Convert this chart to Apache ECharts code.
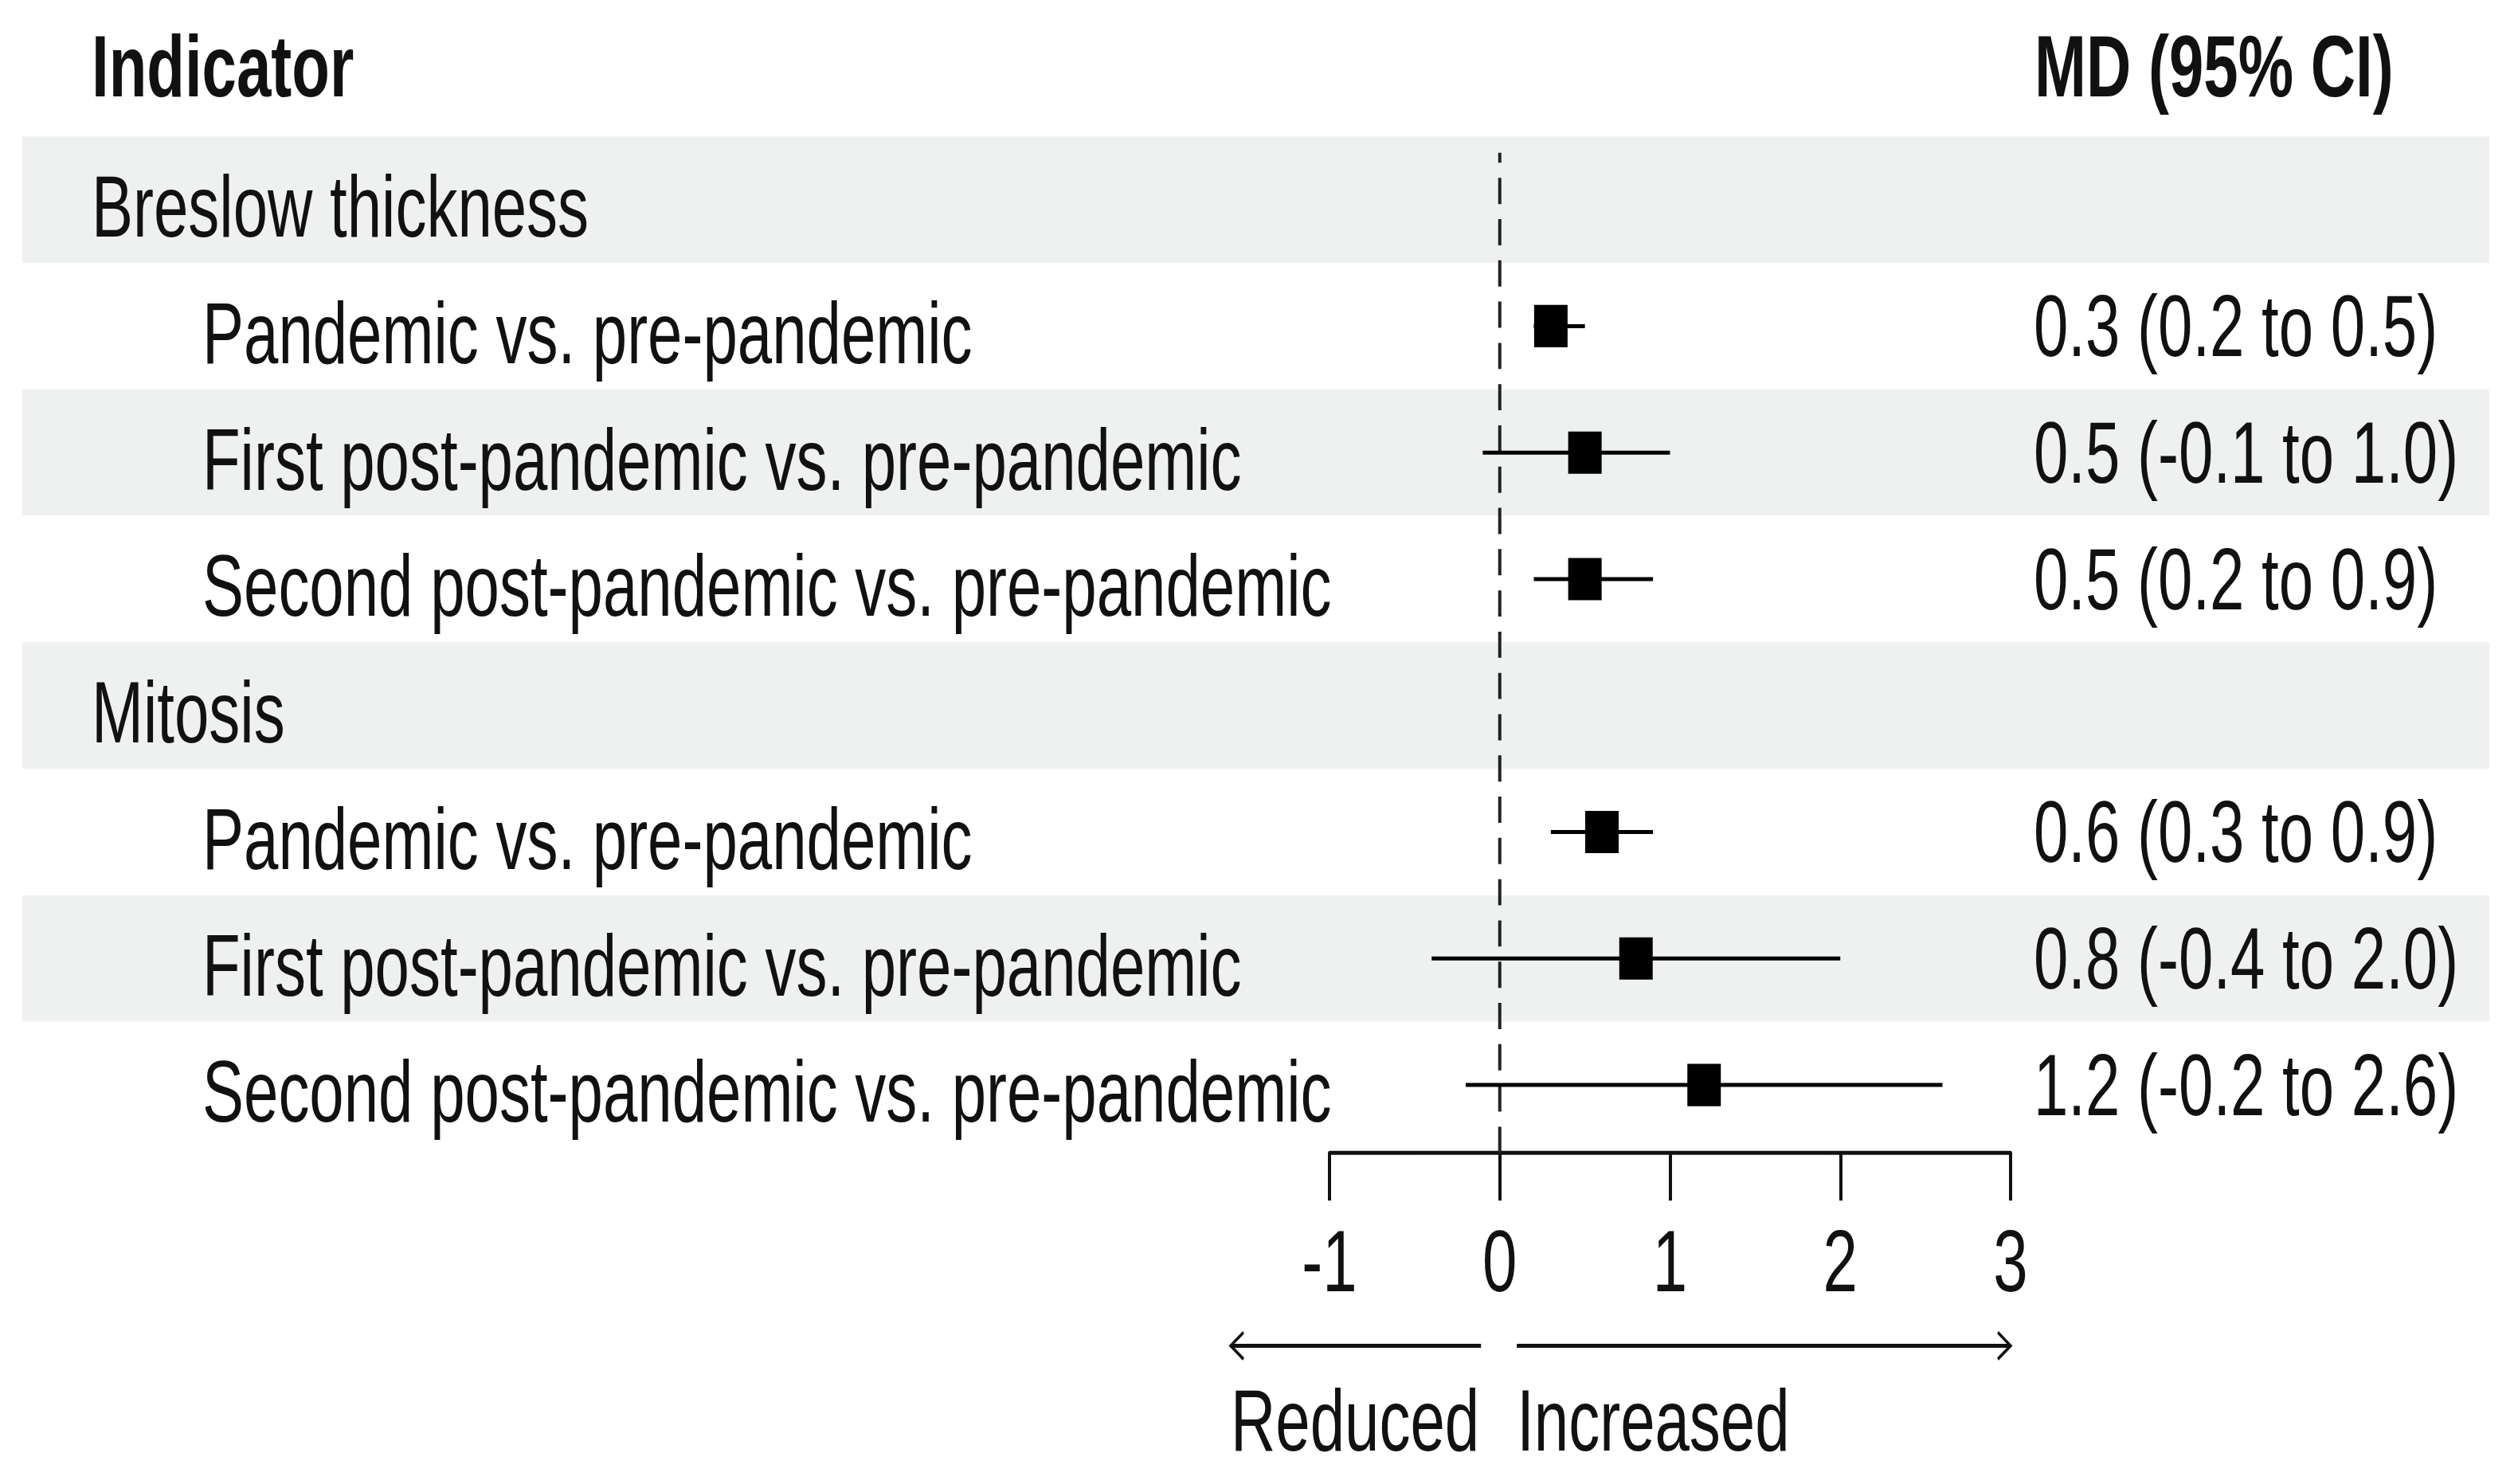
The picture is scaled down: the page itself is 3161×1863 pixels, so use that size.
<!DOCTYPE html>
<html>
<head>
<meta charset="utf-8">
<script src="https://cdn.jsdelivr.net/npm/echarts@6/dist/echarts.min.js"></script>
<style>
  html, body { margin: 0; padding: 0; background: #fff; width: 3161px; height: 1863px; overflow: hidden; }
  /* the reference is a forest plot stretched vertically, so draw flat and stretch */
  #forest { width: 3161px; height: 1331px; transform: scaleY(1.3997); transform-origin: 0 0; }
</style>
</head>
<body>
<div id="forest"></div>
<script>
// rows, top to bottom
const rowLabels = [
  'Breslow thickness',
  'Pandemic vs. pre-pandemic',
  'First post-pandemic vs. pre-pandemic',
  'Second post-pandemic vs. pre-pandemic',
  'Mitosis',
  'Pandemic vs. pre-pandemic',
  'First post-pandemic vs. pre-pandemic',
  'Second post-pandemic vs. pre-pandemic'
];
const isGroup = [true, false, false, false, true, false, false, false];
const md    = [null, 0.3, 0.5, 0.5, null, 0.6, 0.8, 1.2];
const lower = [null, 0.2, -0.1, 0.2, null, 0.3, -0.4, -0.2];
const upper = [null, 0.5, 1.0, 0.9, null, 0.9, 2.0, 2.6];
const xTicks = [-1, 0, 1, 2, 3];
const refValue = 0;
const arrowFrom = [-0.11, 0.10];
const arrowTo = [-1.58, 3.0];
const arrowLabels = ['Reduced', 'Increased'];

const FONT = "'Liberation Sans', Arial, sans-serif";
const INK = '#111';
const FS = 78;

const ciText = md.map(function (m, i) {
  if (m === null) return '';
  return m.toFixed(1) + ' (' + lower[i].toFixed(1) + ' to ' + upper[i].toFixed(1) + ')';
});

const ciData = [];
md.forEach(function (m, i) {
  if (m !== null) ciData.push([lower[i], upper[i], m, i]);
});

const arrowData = arrowFrom.map(function (f, i) { return [f, arrowTo[i], 0.5, i]; });

const xMin = xTicks[0], xMax = xTicks[xTicks.length - 1];
const gridTop = 122.4, gridH = 907.4;

var dom = document.getElementById('forest');
var myChart = echarts.init(dom, null, { renderer: 'svg' });

var option = {
  animation: false,
  backgroundColor: '#fff',
  textStyle: { fontFamily: FONT, color: INK },
  grid: [
    { left: 1669, width: 855, top: gridTop, height: gridH, outerBoundsMode: 'none' },
    { left: 28, right: 36, top: gridTop, height: gridH, outerBoundsMode: 'none' },
    { left: 1669, width: 855, top: 1190, height: 34, outerBoundsMode: 'none' },
    { left: 1669, width: 855, top: 137, height: 897, outerBoundsMode: 'none' }
  ],
  xAxis: [
    {
      gridIndex: 0, type: 'value', min: xMin, max: xMax, interval: 1,
      offset: 4,
      axisLine: { show: true, lineStyle: { color: INK, width: 3.6 } },
      axisTick: { show: true, length: 43, lineStyle: { color: INK, width: 4 } },
      axisLabel: { fontSize: FS, fontFamily: FONT, color: INK, margin: 58 },
      splitLine: { show: false }
    },
    { gridIndex: 1, type: 'value', min: 0, max: 1, show: false },
    { gridIndex: 2, type: 'value', min: xMin, max: xMax, show: false },
    { gridIndex: 3, type: 'value', min: xMin, max: xMax, show: false }
  ],
  yAxis: [
    {
      gridIndex: 0, type: 'category', data: rowLabels, inverse: true, position: 'right',
      axisLine: { show: false }, axisTick: { show: false },
      axisLabel: {
        interval: 0, margin: 29, fontSize: FS, fontFamily: FONT, color: INK,
        padding: [12, 0, 0, 0],
        formatter: function (v, i) { return ciText[i]; }
      },
      splitLine: { show: false }
    },
    {
      gridIndex: 1, type: 'category', data: rowLabels, inverse: true,
      axisLine: { show: false }, axisTick: { show: false },
      splitLine: { show: false },
      splitArea: { show: true, areaStyle: { color: ['#eff1f1', '#ffffff'] } },
      axisLabel: {
        interval: 0, inside: true, margin: 87, color: INK,
        formatter: function (v, i) { return (isGroup[i] ? '{g|' : '{s|') + v + '}'; },
        rich: {
          g: { fontSize: FS, fontFamily: FONT, color: INK, padding: [12, 0, 0, 0] },
          s: { fontSize: FS, fontFamily: FONT, color: INK, padding: [12, 0, 0, 139] }
        }
      }
    },
    { gridIndex: 2, type: 'value', min: 0, max: 1, show: false },
    { gridIndex: 3, type: 'value', min: 0, max: 1, show: false }
  ],
  graphic: [
    {
      type: 'text', x: 115, y: 59,
      style: { text: 'Indicator', font: 'bold ' + FS + 'px ' + FONT, fill: INK, textVerticalAlign: 'middle' }
    },
    {
      type: 'text', x: 2554, y: 59,
      style: { text: 'MD (95% CI)', font: 'bold ' + FS + 'px ' + FONT, fill: INK, textVerticalAlign: 'middle' }
    }
  ],
  series: [
    {
      // dashed line of no difference
      type: 'line',
      xAxisIndex: 3, yAxisIndex: 3,
      data: [[refValue, 0], [refValue, 1]],
      symbol: 'none', silent: true,
      lineStyle: { color: '#222', width: 4, type: [23.5, 13.5] },
      z: 3
    },
    {
      type: 'custom',
      xAxisIndex: 0, yAxisIndex: 0,
      data: ciData,
      encode: { x: 2, y: 3 },
      renderItem: function (params, api) {
        var row = api.value(3);
        var lo = api.coord([api.value(0), row]);
        var hi = api.coord([api.value(1), row]);
        var mid = api.coord([api.value(2), row]);
        return {
          type: 'group',
          children: [
            { type: 'line', shape: { x1: lo[0], y1: lo[1], x2: hi[0], y2: hi[1] },
              style: { stroke: '#000', lineWidth: 3.6 } },
            { type: 'rect', shape: { x: mid[0] - 21, y: mid[1] - 19, width: 42, height: 38 },
              style: { fill: '#000' } }
          ]
        };
      },
      z: 5
    },
    {
      type: 'custom',
      xAxisIndex: 2, yAxisIndex: 2,
      data: arrowData,
      encode: { x: 0, y: 2 },
      renderItem: function (params, api) {
        var a = api.coord([api.value(0), api.value(2)]);
        var b = api.coord([api.value(1), api.value(2)]);
        var dir = b[0] > a[0] ? 1 : -1;
        var left = Math.min(a[0], b[0]);
        return {
          type: 'group',
          children: [
            { type: 'line', shape: { x1: a[0], y1: a[1], x2: b[0], y2: b[1] },
              style: { stroke: INK, lineWidth: 3.6 } },
            { type: 'polyline',
              shape: { points: [[b[0] - dir * 16, b[1] - 12], [b[0], b[1]], [b[0] - dir * 16, b[1] + 12]] },
              style: { stroke: INK, lineWidth: 3, fill: null } },
            { type: 'text', x: left, y: a[1] + 67,
              style: { text: arrowLabels[api.value(3)], font: FS + 'px ' + FONT, fill: INK,
                       textAlign: 'left', textVerticalAlign: 'middle' } }
          ]
        };
      }
    }
  ]
};

if (option && typeof option === 'object') {
  myChart.setOption(option);
}
</script>
</body>
</html>
